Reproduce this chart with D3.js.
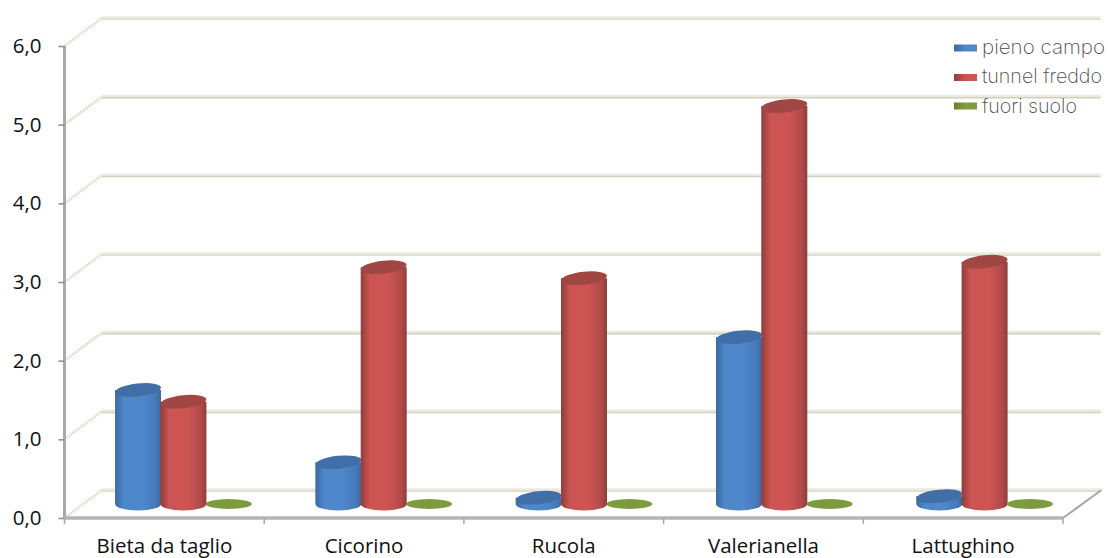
<!DOCTYPE html>
<html>
<head>
<meta charset="utf-8">
<script src="https://cdn.jsdelivr.net/npm/d3@7/dist/d3.min.js"></script>
<style>
html,body{margin:0;padding:0;background:#fff;overflow:hidden}
svg{display:block}
</style>
</head>
<body>
<svg id="chart" width="1108" height="558"></svg>
<script>
const categories = ["Bieta da taglio","Cicorino","Rucola","Valerianella","Lattughino"];
const seriesNames = ["pieno campo","tunnel freddo","fuori suolo"];
const pienoCampo = [1.45,0.53,0.08,2.12,0.10];
const tunnelFreddo = [1.30,3.01,2.87,5.06,3.08];
const fuoriSuolo = [0,0,0,0,0];
const seriesValues = [pienoCampo,tunnelFreddo,fuoriSuolo];
const yTicks = [0,1,2,3,4,5,6];

const edgeColors = ["#3a6aa3","#8f3d3b","#64802f"];
const midColors = ["#4f87cb","#cc5553","#7f9c40"];
const capColors = ["#3f6fa6","#a04643","#7c9a3e"];

const plot = {left:64.5, right:1063, top:46, bottom:518};
const depth = {dx:37.5, dy:-28};
const svg = d3.select("#chart");
const y = d3.scaleLinear().domain([0,6]).range([plot.bottom,plot.top]);
const x = d3.scaleBand().domain(categories).range([plot.left,plot.right]);
const barX = d3.scaleBand().domain(categories).range([plot.left,plot.right+3]);
const sx = d3.scaleBand().domain(d3.range(seriesNames.length)).range([-68,68]);

// Horizontal cylinder shading, one gradient per series
const defs = svg.append("defs");
seriesNames.forEach((_,i)=>{
  const g = defs.append("linearGradient").attr("id","cyl"+i);
  [[0,edgeColors[i]],[0.2,midColors[i]],[0.6,midColors[i]],[0.88,d3.interpolateRgb(midColors[i],edgeColors[i])(0.45)],[1,edgeColors[i]]]
    .forEach(([o,c])=>g.append("stop").attr("offset",o).attr("stop-color",c));
  const l = defs.append("linearGradient").attr("id","key"+i);
  [[0,edgeColors[i]],[0.5,midColors[i]],[1,midColors[i]]]
    .forEach(([o,c])=>l.append("stop").attr("offset",o).attr("stop-color",c));
});

// Back wall gridlines, side wall slants and floor
const walls = svg.append("g");
yTicks.forEach(t=>{
  const yb = y(t)+depth.dy;
  const xb = plot.left+depth.dx;
  walls.append("line").attr("x1",xb).attr("x2",plot.right+depth.dx).attr("y1",yb+1).attr("y2",yb+1)
    .attr("stroke","#d2d0bf").attr("stroke-width",1.6);
  walls.append("line").attr("x1",xb).attr("x2",plot.right+depth.dx).attr("y1",yb-0.7).attr("y2",yb-0.7)
    .attr("stroke","#eceadf").attr("stroke-width",2.2);
  walls.append("line").attr("x1",plot.left).attr("x2",xb).attr("y1",y(t)).attr("y2",yb)
    .attr("stroke","#dddbcc").attr("stroke-width",3).attr("stroke-dasharray","1.5 1");
});
walls.append("line").attr("x1",plot.right).attr("y1",plot.bottom)
  .attr("x2",plot.right+depth.dx+1).attr("y2",plot.bottom+depth.dy)
  .attr("stroke","#a6a6a6").attr("stroke-width",2);

// Axes
const fmt = d=>d.toFixed(1).replace(".",",");
const yAxis = svg.append("g").attr("transform",`translate(${plot.left},0)`)
  .call(d3.axisLeft(y).tickValues(yTicks).tickFormat(fmt).tickSize(6).tickPadding(17));
const xAxis = svg.append("g").attr("transform",`translate(0,${plot.bottom})`)
  .call(d3.axisBottom(x).tickSize(0).tickPadding(20));
xAxis.selectAll(".cat-tick").data(d3.range(categories.length+1)).enter().append("line")
  .attr("class","cat-tick")
  .attr("x1",i=>plot.left+i*x.step()).attr("x2",i=>plot.left+i*x.step())
  .attr("y1",0).attr("y2",6).attr("stroke","#a6a6a6").attr("stroke-width",1.5);
yAxis.select(".domain").attr("d",`M0,${y(6)}V${y(0)+1}`).attr("stroke","#a9a9a9").attr("stroke-width",3);
xAxis.select(".domain").attr("d",`M${plot.left},0H${plot.right}`).attr("stroke","#b4b4b4").attr("stroke-width",3.5);
yAxis.selectAll(".tick line").attr("stroke","#8c8c8c").attr("stroke-width",1.5);
[yAxis,xAxis].forEach(a=>a.selectAll("text")
  .attr("fill","#111").style("font-family","'Open Sans',sans-serif").style("font-size","20.5px"));

// Cylinders, drawn series by series so each overlaps the one on its left
const rx = 23, tilt = -6;
seriesNames.forEach((_,i)=>{
  const g = svg.append("g");
  categories.forEach((c,k)=>{
    const v = seriesValues[i][k];
    const cx = barX(c)+barX.bandwidth()/2+sx(i)+sx.bandwidth()/2+depth.dx/2;
    const base = y(0)+depth.dy/2;
    const top = y(v)+depth.dy/2;
    const ry = v===0 ? 5 : 6.5;
    if(v>0){
      g.append("path")
        .attr("d",`M${cx-rx},${top}L${cx-rx},${base}A${rx},${ry} 0 0 0 ${cx+rx},${base}L${cx+rx},${top}Z`)
        .attr("fill",`url(#cyl${i})`);
    }
    g.append("ellipse").attr("cx",cx).attr("cy",top).attr("rx",rx).attr("ry",ry)
      .attr("transform",`rotate(${v===0?0:tilt} ${cx} ${top})`)
      .attr("fill",capColors[i]);
  });
});

// Legend
const keyY = d3.scaleOrdinal().domain(seriesNames).range([48,77.5,106]);
const labelY = d3.scaleOrdinal().domain(seriesNames).range([53.5,83,112.5]);
const legendW = [123,120,95];
const legend = svg.append("g");
seriesNames.forEach((n,i)=>{
  legend.append("rect").attr("x",954).attr("y",keyY(n)-3.5).attr("width",23).attr("height",7)
    .attr("fill",`url(#key${i})`);
  legend.append("text").attr("x",982).attr("y",labelY(n))
    .attr("textLength",legendW[i]).attr("lengthAdjust","spacingAndGlyphs")
    .attr("fill","#4a4a4a").style("font-family","Inter,sans-serif").style("font-weight",200).style("font-size","20px")
    .text(n);
});
</script>
</body>
</html>
